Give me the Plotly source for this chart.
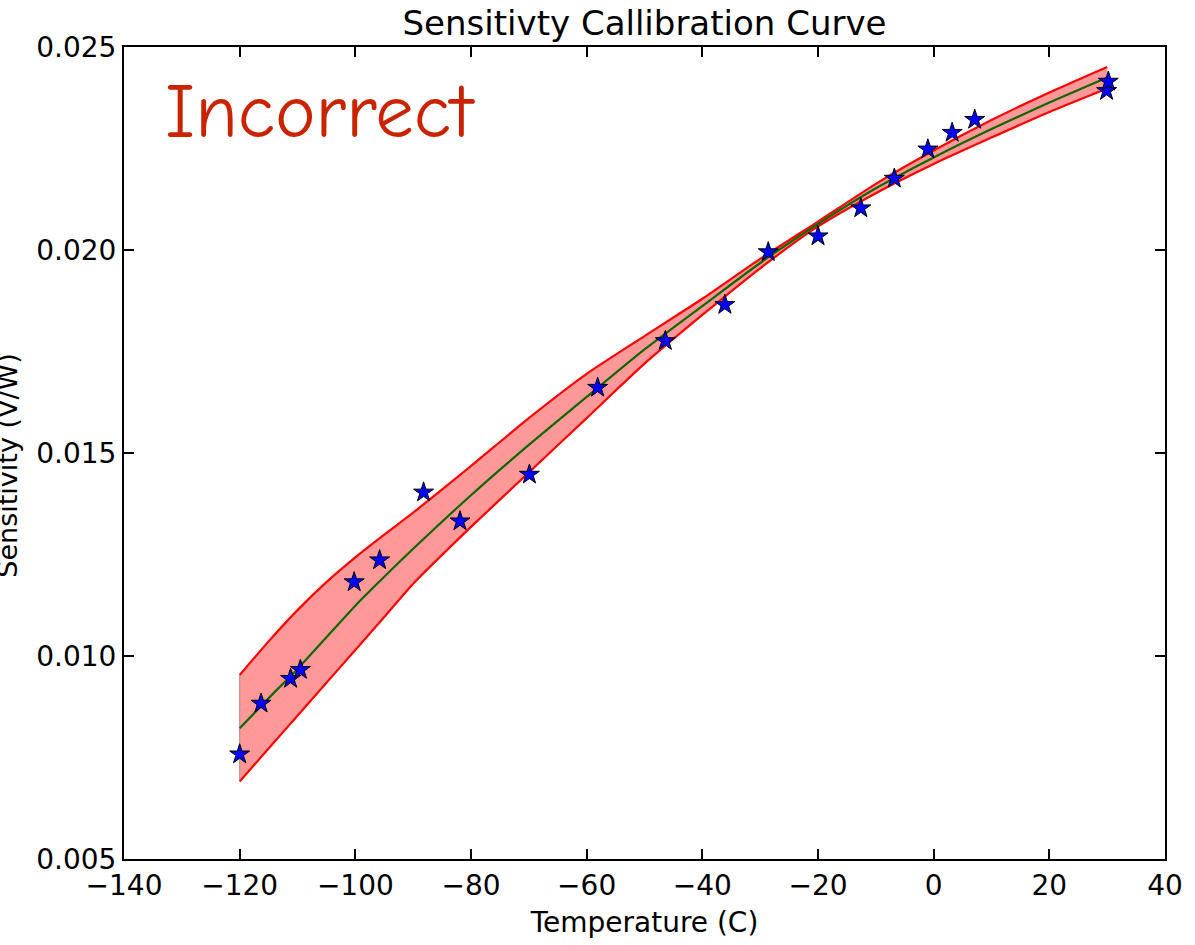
import plotly.graph_objects as go

# Measured sensitivity at each temperature
temp_c = [-120.0, -116.3, -111.2, -109.5, -100.2, -95.8, -88.2, -81.9, -69.9,
          -58.1, -46.4, -36.1, -28.6, -20.0, -12.6, -6.8, -1.0, 3.2, 7.1, 29.9, 30.2]
sensitivity = [0.00758, 0.00883, 0.00944, 0.00966, 0.01182, 0.01236, 0.01403,
               0.01332, 0.01447, 0.01661, 0.01776, 0.01865, 0.01995, 0.02034,
               0.02103, 0.02176, 0.02248, 0.02289, 0.02321, 0.02392, 0.02415]

# Calibration fit with its confidence band
fit_temp = [-120, -115, -110, -105, -100, -95, -90, -80, -70, -60, -50, -40, -30,
            -20, -10, 0, 10, 20, 30]
fit_sens = [0.00822, 0.00896, 0.00968, 0.01046, 0.01124, 0.01195, 0.01264, 0.01396,
            0.01520, 0.01638, 0.01755, 0.01862, 0.01968, 0.02064, 0.02152, 0.02228,
            0.02298, 0.02363, 0.02425]
fit_upper = [0.00953, 0.01036, 0.01113, 0.01182, 0.01243, 0.01299, 0.01353, 0.01468,
             0.01586, 0.01695, 0.01788, 0.01880, 0.01978, 0.02070, 0.02163, 0.02245,
             0.02320, 0.02388, 0.02451]
fit_lower = [0.00691, 0.00772, 0.00853, 0.00934, 0.01015, 0.01096, 0.01178, 0.01318,
             0.01452, 0.01586, 0.01720, 0.01840, 0.01955, 0.02058, 0.02140, 0.02212,
             0.02277, 0.02340, 0.02398]

x_ticks = [-140, -120, -100, -80, -60, -40, -20, 0, 20, 40]
y_ticks = [0.005, 0.010, 0.015, 0.020, 0.025]

FONT = "DejaVu Sans"
SMOOTH = 0.6

fig = go.Figure()

fig.add_trace(go.Scatter(x=fit_temp, y=fit_lower, mode="lines",
                         line=dict(color="#ff0000", width=2.2, shape="spline",
                                   smoothing=SMOOTH),
                         showlegend=False))
fig.add_trace(go.Scatter(x=fit_temp, y=fit_upper, mode="lines", fill="tonexty",
                         fillcolor="rgba(255,0,0,0.4)",
                         line=dict(color="#ff0000", width=2.2, shape="spline",
                                   smoothing=SMOOTH),
                         showlegend=False))
# left edge of the band
fig.add_trace(go.Scatter(x=[fit_temp[0], fit_temp[0]], y=[fit_lower[0], fit_upper[0]],
                         mode="lines", line=dict(color="rgba(140,110,110,0.7)", width=1),
                         showlegend=False))
fig.add_trace(go.Scatter(x=fit_temp, y=fit_sens, mode="lines",
                         line=dict(color="#116600", width=2.2, shape="spline",
                                   smoothing=SMOOTH),
                         showlegend=False))
fig.add_trace(go.Scatter(x=temp_c, y=sensitivity, mode="markers",
                         marker=dict(symbol="star", size=15, color="#0000ff",
                                     line=dict(color="#000000", width=1)),
                         showlegend=False))

fig.update_layout(
    width=1195, height=945,
    margin=dict(l=124, r=19, t=47, b=83),
    paper_bgcolor="white", plot_bgcolor="white",
    font=dict(family=FONT, color="black", size=28),
    title=dict(text="Sensitivty Callibration Curve", xref="paper", x=0.5,
               xanchor="center", y=1 - 23 / 945, yanchor="middle",
               font=dict(size=34)),
    xaxis=dict(range=[-140, 40], tickvals=x_ticks, showgrid=False, zeroline=False,
               showline=True, linecolor="black", linewidth=2, mirror="ticks",
               ticks="inside", ticklen=10, tickwidth=1.5, tickcolor="black",
               tickfont=dict(size=28),
               title=dict(text="Temperature (C)", font=dict(size=28), standoff=12)),
    yaxis=dict(range=[0.005, 0.025], tickvals=y_ticks, tickformat=".3f",
               showgrid=False, zeroline=False, showline=True, linecolor="black",
               linewidth=2, mirror="ticks", ticks="inside", ticklen=10,
               tickwidth=1.5, tickcolor="black", tickfont=dict(size=28)),
    annotations=[
        dict(text="Sensitivity (V/W)", xref="paper", yref="paper",
             x=(6 - 124) / 1052, y=(862 - 467) / 815, textangle=-90,
             showarrow=False, xanchor="center", yanchor="middle",
             font=dict(size=27, family=FONT)),
        dict(text="Incorrect", xref="paper", yref="paper",
             x=(163 - 124) / 1052, y=(862 - 112) / 815,
             showarrow=False, xanchor="left", yanchor="middle",
             font=dict(size=77, family="Comic Sans MS, Comic Neue, DejaVu Sans",
                       color="#c92300")),
    ],
)

fig.write_html("out.html")
